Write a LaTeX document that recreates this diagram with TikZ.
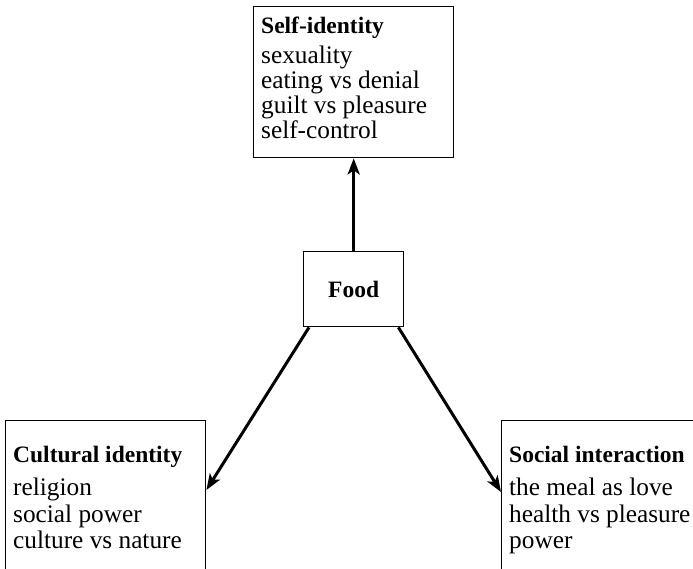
\documentclass[tikz,border=0pt]{standalone}
\usepackage{fontspec}
\setmainfont{Liberation Serif}
\usetikzlibrary{arrows.meta,calc}
\newcommand{\boxhead}[1]{{\bfseries\fontsize{23.5}{25}\selectfont #1}}
\begin{document}
\begin{tikzpicture}[x=1pt,y=-1pt,
  frame/.style={draw, line width=1.4pt, anchor=north west, inner sep=0pt},
  txt/.style={anchor=north west, align=left, inner sep=0pt},
  link/.style={line width=3pt, -{Stealth[length=16pt,width=12pt,inset=4pt]}}]
\useasboundingbox (0,0) rectangle (693,569);
\clip (0,0) rectangle (693,569);
% frames
\node[frame, minimum width=200pt, minimum height=151pt] (self) at (253,6) {};
\node[frame, minimum width=100pt, minimum height=75pt] (food) at (303,251) {};
\node[frame, minimum width=200pt, minimum height=220pt] (cult) at (5,420) {};
\node[frame, minimum width=220pt, minimum height=220pt] (soc) at (501,420) {};
% texts
\node[txt, font=\fontsize{25.3}{25}\selectfont] (selft) at (261,17)
  {\boxhead{Self-identity}\\[5pt]sexuality\\eating vs denial\\guilt vs pleasure\\self-control};
\node[font=\bfseries\fontsize{23.5}{25}\selectfont] (foodt) at (food.center) {Food};
\node[txt, font=\fontsize{25.3}{26.5}\selectfont] (cultt) at (13,446)
  {\boxhead{Cultural identity}\\[6.5pt]religion\\social power\\culture vs nature};
\node[txt, font=\fontsize{25.3}{26.5}\selectfont] (soct) at (509,446)
  {\boxhead{Social interaction}\\[6.5pt]the meal as love\\health vs pleasure\\power};
% connectors
\draw[link] (food.north) -- (self.south);
\draw[link] ($(food.south west)+(6,0)$) -- ($(cult.north east)+(0,70)$);
\draw[link] ($(food.south east)+(-6,0)$) -- ($(soc.north west)+(0,72)$);
\end{tikzpicture}
\end{document}
